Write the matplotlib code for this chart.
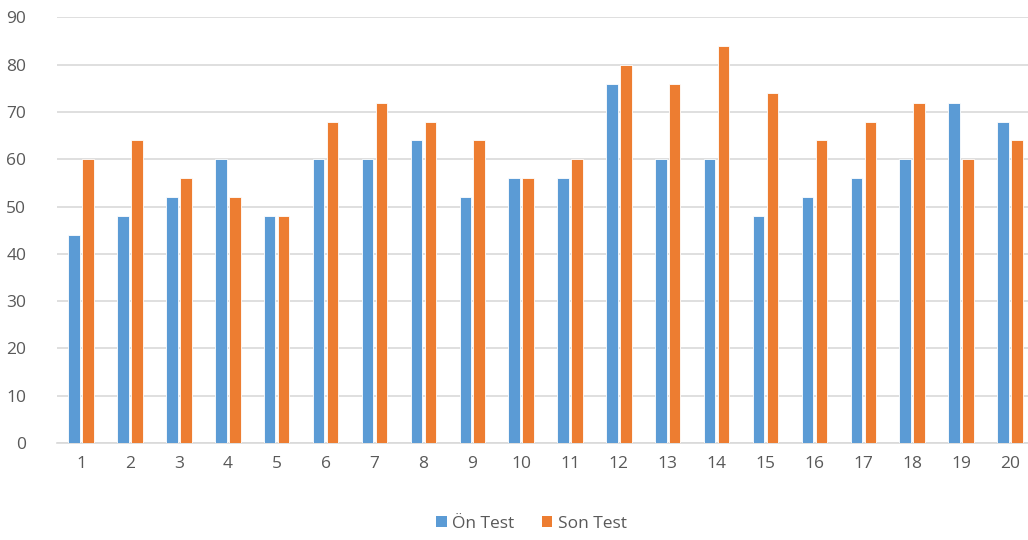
import matplotlib
matplotlib.use("Agg")
import matplotlib.pyplot as plt
import numpy as np
from matplotlib.patches import Patch

categories = [str(i) for i in range(1, 21)]
on_test = [44, 48, 52, 60, 48, 60, 60, 64, 52, 56, 56, 76, 60, 60, 48, 52, 56, 60, 72, 68]
son_test = [60, 64, 56, 52, 48, 68, 72, 68, 64, 56, 60, 80, 76, 84, 74, 64, 68, 72, 60, 64]
series_names = ["Ön Test", "Son Test"]
colors = ["#5B9BD5", "#ED7D31"]
y_ticks = list(range(0, 100, 10))

plt.rcParams['font.family'] = ['Open Sans', 'DejaVu Sans']

fig = plt.figure(figsize=(10.28, 5.4), dpi=100)
ax = fig.add_axes([0.0552, 0.1796, 0.951, 0.788])

x = np.arange(len(categories))
w = 0.235
off = 0.143
ax.bar(x - off, on_test, width=w, color=colors[0], edgecolor="white", linewidth=0.6, zorder=3)
ax.bar(x + off, son_test, width=w, color=colors[1], edgecolor="white", linewidth=0.6, zorder=3)

ax.set_xlim(-0.5, len(categories) - 0.5)
ax.set_ylim(0, 90)
ax.set_yticks(y_ticks)
ax.set_xticks(x)
ax.set_xticklabels(categories)
ax.grid(axis="y", color="#d9d9d9", linewidth=1.2, zorder=0)
for s in ["top", "right", "left"]:
    ax.spines[s].set_visible(False)
ax.spines["bottom"].set_color("#d9d9d9")
ax.spines["bottom"].set_linewidth(1.2)
ax.tick_params(axis="both", length=0, colors="#595959", labelsize=12.5)
ax.tick_params(axis="y", pad=22)
ax.tick_params(axis="x", pad=9)

handles = [Patch(facecolor=c) for c in colors]
fig.legend(handles, series_names, loc="center", bbox_to_anchor=(0.517, 0.03),
           ncol=2, frameon=False, fontsize=12.5, handlelength=0.6, handleheight=0.6,
           handletextpad=0.3, columnspacing=1.6, labelcolor="#595959")

fig.savefig("out.png", dpi=100)
